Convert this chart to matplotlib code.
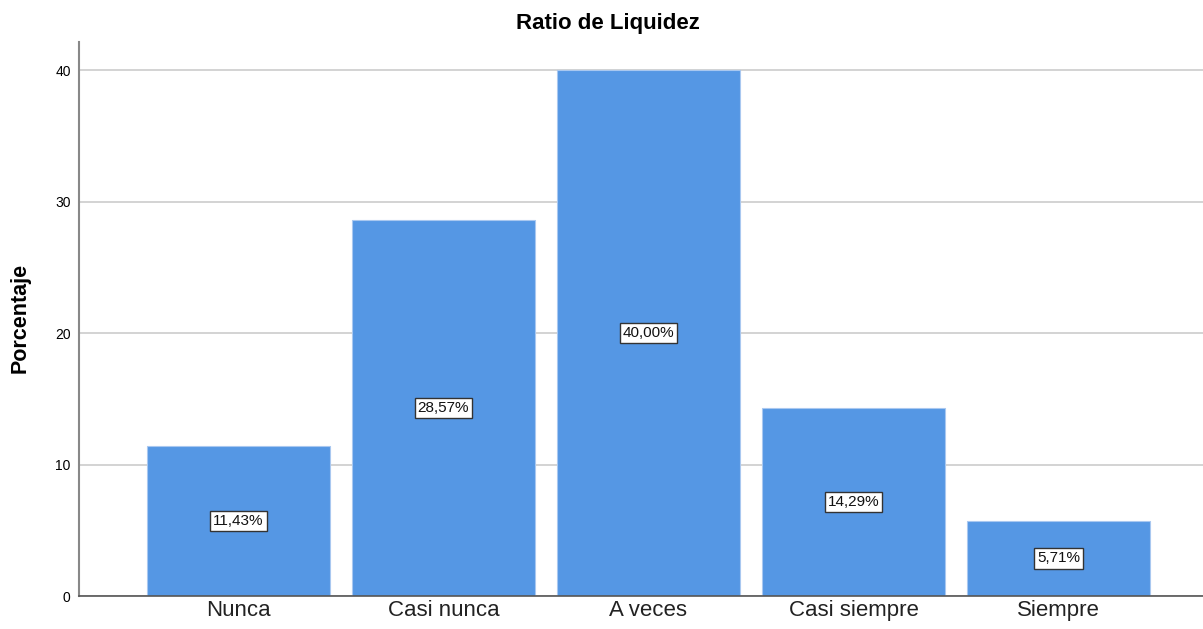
import matplotlib
matplotlib.use("Agg")
import matplotlib.pyplot as plt

categories = ["Nunca", "Casi nunca", "A veces", "Casi siempre", "Siempre"]
values = [11.43, 28.57, 40.00, 14.29, 5.71]
labels = ["11,43%", "28,57%", "40,00%", "14,29%", "5,71%"]
yticks = [0, 10, 20, 30, 40]

plt.rcParams['font.family'] = ['Liberation Sans', 'DejaVu Sans']

fig = plt.figure(figsize=(12.03, 6.29), dpi=100)
ax = fig.add_axes([79/1203, 33/629, 1 - 79/1203, 554/629])

x = list(range(len(categories)))
ax.bar(x, values, width=0.893, color="#5597E4", edgecolor="#A9C8F0", linewidth=0.8, zorder=2)

for xi, v, lab in zip(x, values, labels):
    ax.text(xi, v / 2, lab, ha="center", va="center", fontsize=11, color="#111111", zorder=3,
            bbox=dict(boxstyle="square,pad=0.2", facecolor="white", edgecolor="#333333", linewidth=1))

ax.set_xlim(-0.778, 4.705)
ax.set_ylim(0, 42.13)
ax.set_yticks(yticks)
ax.set_yticklabels([str(t) for t in yticks], fontsize=10)
ax.set_xticks(x)
ax.set_xticklabels(categories, fontsize=16, color="#222222")
ax.tick_params(axis="both", length=0, pad=6)
ax.tick_params(axis="x", pad=3)
ax.yaxis.grid(True, color="#D0D0D0", linewidth=1.3, zorder=0)
ax.set_axisbelow(True)

for s in ["top", "right"]:
    ax.spines[s].set_visible(False)
ax.spines["left"].set_color("#888888")
ax.spines["left"].set_linewidth(1.5)
ax.spines["bottom"].set_color("#555555")
ax.spines["bottom"].set_linewidth(1.2)

fig.text(608/1203, 1 - 24/629, "Ratio de Liquidez", ha="center", va="center", fontsize=16, fontweight="bold")
fig.text(20/1203, 1 - 318/629, "Porcentaje", ha="center", va="center", rotation=90, fontsize=15.5, fontweight="bold")

fig.savefig("out.png", dpi=100, facecolor="white")
